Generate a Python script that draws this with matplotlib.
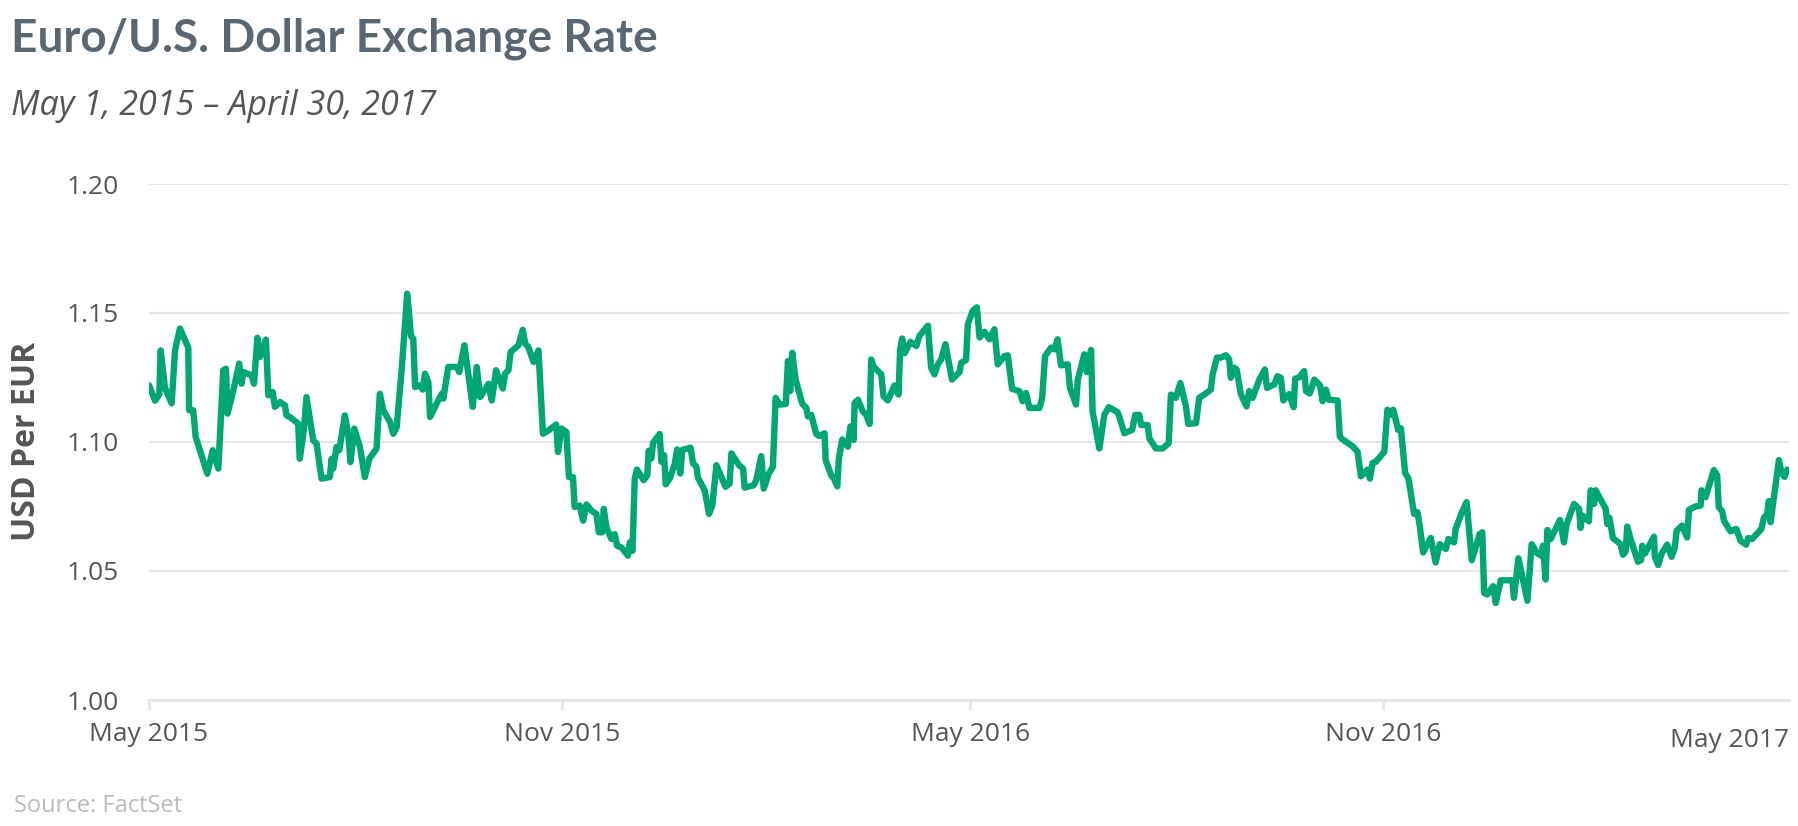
import matplotlib
matplotlib.use("Agg")
import matplotlib.pyplot as plt
import matplotlib.transforms as mtransforms
import pandas as pd

# Days after 2015-05-01 and EUR/USD rate
days = [0, 2.7, 4.6, 5.2, 7.1, 10.1, 11.6, 13.8, 17.5, 17.9, 19.7, 20.8, 26.0, 28.4, 30.9,
        33.1, 34.3, 35.0, 37.6, 40.2, 41.3, 42.0, 45.8, 46.8, 48.3, 49.4, 52.1, 53.2, 55.1,
        56.1, 58.4, 60.6, 61.3, 62.8, 66.5, 67.2, 69.0, 70.2, 73.2, 74.7, 76.9, 80.6, 81.4,
        82.1, 83.6, 84.8, 87.3, 88.8, 89.8, 91.5, 94.0, 96.2, 98.2, 101.4, 102.9, 104.4,
        107.4, 108.9, 110.4, 112.6, 115.1, 116.8, 117.8, 118.6, 120.8, 122.0, 123.0, 124.5,
        125.3, 128.2, 130.5, 131.2, 133.4, 137.2, 138.3, 140.6, 144.3, 146.1, 147.6, 151.3,
        152.8, 154.7, 157.7, 158.7, 160.2, 161.2, 164.7, 166.6, 167.7, 169.1, 171.4, 173.6,
        175.6, 178.1, 181.5, 182.3, 183.8, 186.0, 187.2, 189.0, 189.7,
        192.0, 193.5, 195.0, 197.2, 199.4, 200.5, 202.0, 202.7, 203.9, 206.1, 207.6, 208.6,
        210.6, 213.5, 214.3, 215.5, 216.5, 217.5, 220.5, 222.1, 222.7, 223.9, 224.7, 227.6,
        228.4, 229.6, 230.3, 232.1, 234.3, 235.4, 236.8, 237.7, 241.4, 242.5, 244.0, 244.7,
        247.7, 249.6, 251.1, 252.9, 255.1, 257.0, 258.8, 259.6, 263.0, 264.8, 265.5, 269.5,
        270.7, 272.9, 274.0, 276.3, 278.1, 279.3, 281.1, 283.8, 284.8, 285.8, 286.7, 288.2,
        291.2, 293.0, 293.7, 295.2, 297.4, 298.9, 301.1, 301.6, 304.1, 305.3, 306.8, 307.5,
        309.0, 311.5, 312.6, 314.1, 314.5, 316.0, 318.2, 319.7, 321.2, 321.9, 323.0, 326.4,
        327.4, 329.3, 332.3, 334.1, 334.8, 335.7, 336.8, 339.4, 342.0, 343.4, 347.2, 348.6,
        350.1, 351.6, 353.1, 355.0, 357.9, 361.3, 362.0, 364.2, 365.0, 367.2, 369.0, 370.2,
        372.4,
        374.6, 376.8, 378.3, 381.3, 382.8, 384.7, 388.0, 389.4, 390.9, 392.4, 396.9, 398.1,
        399.4, 402.1, 403.6, 405.0, 406.5, 409.5, 410.5, 413.2, 414.0, 416.9, 418.0, 419.9,
        420.6, 423.6, 425.8, 427.8, 431.8, 433.2, 434.7, 438.2, 439.6, 441.4, 442.2, 445.1,
        445.9, 448.8, 451.8, 454.5, 455.5, 457.7, 459.7, 462.2, 463.2, 466.7, 468.1, 470.4,
        473.3, 474.1, 476.0, 477.8, 480.0, 481.5, 482.2, 483.7, 484.8, 486.7, 489.2, 490.4,
        491.9, 494.9, 497.4, 498.3, 501.6, 503.0, 504.5, 505.6, 508.2, 510.2, 510.9, 512.7,
        514.9, 515.7, 517.4, 519.4, 522.0, 523.1, 524.6, 525.8, 529.8, 530.8, 532.0, 533.5,
        536.4, 538.7, 540.2, 543.1, 544.2, 545.4, 546.8, 550.6, 552.0, 553.5, 554.6, 556.8,
        558.0,
        559.9, 561.4, 563.9, 565.4, 566.4, 567.9, 571.3, 573.5, 575.3, 578.0, 579.2, 581.7,
        582.4, 585.4, 587.3, 589.6, 593.1, 594.3, 595.1, 596.5, 599.1, 600.3, 602.5, 607.7,
        608.4, 610.4, 614.4, 616.3, 618.8, 620.8, 621.3, 622.5, 623.3, 624.8, 628.9, 630.7,
        631.9, 635.2, 637.4, 638.1, 638.9, 641.8, 642.6, 644.1, 644.8, 649.3, 650.0, 651.0,
        652.5, 655.9, 657.0, 658.2, 658.9, 660.4, 663.7, 665.1, 665.6, 666.8, 670.8, 671.2,
        672.7, 674.1, 676.7, 678.7, 680.1, 680.9, 683.4, 685.6, 686.4, 689.3, 691.6, 692.0,
        693.8, 697.5, 699.0, 699.7, 701.2, 702.0, 704.9, 707.5, 709.4, 711.9, 712.8, 714.6,
        718.7, 719.8, 721.3, 722.0, 722.8, 726.5, 727.7, 729.0, 730.2]

rates = [1.1220, 1.1160, 1.1185, 1.1355, 1.1210, 1.1150, 1.1355, 1.1440, 1.1366, 1.1123, 1.1123, 1.1020, 1.0877, 1.0968, 1.0897,
         1.1278, 1.1284, 1.1110, 1.1200, 1.1304, 1.1226, 1.1271, 1.1258, 1.1226, 1.1404, 1.1329, 1.1397, 1.1181, 1.1194,
         1.1136, 1.1155, 1.1142, 1.1103, 1.1097, 1.1071, 1.0935, 1.1045, 1.1174, 1.1006, 1.0994, 1.0858, 1.0864, 1.0935,
         1.0897, 1.0981, 1.0968, 1.1103, 1.1032, 1.0922, 1.1052, 1.0981, 1.0864, 1.0935, 1.0974, 1.1187, 1.1123,
         1.1078, 1.1032, 1.1058, 1.1278, 1.1575, 1.1410, 1.1400, 1.1213, 1.1220, 1.1203, 1.1265, 1.1233,
         1.1097, 1.1149, 1.1187, 1.1168, 1.1291, 1.1291, 1.1271, 1.1375, 1.1136, 1.1291, 1.1174, 1.1226,
         1.1161, 1.1278, 1.1207, 1.1265, 1.1278, 1.1349, 1.1375, 1.1435, 1.1381, 1.1368, 1.1310, 1.1355,
         1.1032, 1.1045, 1.1068, 1.0961, 1.1052, 1.1039, 1.0864, 1.0864, 1.0748,
         1.0754, 1.0695, 1.0758, 1.0734, 1.0721, 1.0650, 1.0650, 1.0741, 1.0669, 1.0624, 1.0643, 1.0598,
         1.0591, 1.0559, 1.0611, 1.0578, 1.0858, 1.0893, 1.0852, 1.0871, 1.0966, 1.0936, 1.0997, 1.1031,
         1.0923, 1.0949, 1.0836, 1.0858, 1.0914, 1.0971, 1.0878, 1.0969, 1.0978, 1.0917, 1.0904, 1.0862,
         1.0812, 1.0721, 1.0754, 1.0910, 1.0865, 1.0826, 1.0839, 1.0956, 1.0910, 1.0897, 1.0823, 1.0832,
         1.0852, 1.0945, 1.0819, 1.0878, 1.0904, 1.1171, 1.1145, 1.1147, 1.1314, 1.1197, 1.1346, 1.1242,
         1.1148, 1.1132, 1.1099, 1.1105, 1.1031, 1.1023, 1.1034, 1.0930, 1.0871, 1.0858, 1.0828, 1.0936,
         1.1010, 1.0982, 1.1060, 1.1008, 1.1151, 1.1164, 1.1118, 1.1105, 1.1070, 1.1320, 1.1292, 1.1262,
         1.1177, 1.1161, 1.1219, 1.1184, 1.1359, 1.1401, 1.1344, 1.1388, 1.1372, 1.1411, 1.1451, 1.1288,
         1.1262, 1.1301, 1.1320, 1.1379, 1.1242, 1.1271, 1.1307, 1.1318, 1.1457, 1.1509, 1.1522, 1.1405,
         1.1427,
         1.1398, 1.1437, 1.1301, 1.1333, 1.1336, 1.1206, 1.1197, 1.1158, 1.1190, 1.1132, 1.1132, 1.1171,
         1.1333, 1.1366, 1.1359, 1.1398, 1.1297, 1.1301, 1.1210, 1.1145, 1.1242, 1.1340, 1.1271, 1.1357,
         1.1118, 1.0975, 1.1105, 1.1135, 1.1115, 1.1079, 1.1034, 1.1047, 1.1105, 1.1105, 1.1066, 1.1066,
         1.1014, 1.0975, 1.0975, 1.0995, 1.1184, 1.1171, 1.1229, 1.1138, 1.1070, 1.1073, 1.1171, 1.1184,
         1.1203, 1.1262, 1.1327, 1.1327, 1.1336, 1.1320, 1.1249, 1.1288, 1.1281, 1.1184, 1.1138, 1.1197,
         1.1171, 1.1242, 1.1281, 1.1210, 1.1223, 1.1255, 1.1249, 1.1161, 1.1186, 1.1135, 1.1245, 1.1251,
         1.1275, 1.1197, 1.1188, 1.1242, 1.1219, 1.1158, 1.1203, 1.1164, 1.1161, 1.1021, 1.1010, 1.1001,
         1.0984, 1.0962, 1.0867, 1.0893, 1.0858, 1.0919, 1.0923, 1.0962, 1.1125, 1.1105, 1.1125, 1.1047,
         1.1053,
         1.0880, 1.0858, 1.0721, 1.0728, 1.0676, 1.0572, 1.0628, 1.0533, 1.0604, 1.0585, 1.0624, 1.0611,
         1.0663, 1.0732, 1.0767, 1.0542, 1.0643, 1.0650, 1.0415, 1.0409, 1.0441, 1.0376, 1.0464, 1.0464,
         1.0396, 1.0549, 1.0385, 1.0604, 1.0568, 1.0559, 1.0598, 1.0467, 1.0659, 1.0624, 1.0698, 1.0611,
         1.0682, 1.0760, 1.0741, 1.0667, 1.0715, 1.0693, 1.0813, 1.0760, 1.0813, 1.0741, 1.0682, 1.0706,
         1.0628, 1.0604, 1.0563, 1.0576, 1.0672, 1.0624, 1.0536, 1.0542, 1.0598, 1.0568, 1.0633, 1.0555,
         1.0523, 1.0565, 1.0602, 1.0555, 1.0591, 1.0656, 1.0676, 1.0630, 1.0737, 1.0750, 1.0754, 1.0813,
         1.0786, 1.0891, 1.0871, 1.0747, 1.0732, 1.0695, 1.0654, 1.0663, 1.0617, 1.0602, 1.0628, 1.0624,
         1.0663, 1.0706, 1.0721, 1.0771, 1.0689, 1.0930, 1.0880, 1.0865, 1.0893]

start_date = "2015-05-01"
end_date = "2017-05-01"
y_ticks = [1.00, 1.05, 1.10, 1.15, 1.20]
x_tick_dates = ["2015-05-01", "2015-11-01", "2016-05-01", "2016-11-01", "2017-05-01"]
x_tick_labels = ["May 2015", "Nov 2015", "May 2016", "Nov 2016", "May 2017"]

dates = pd.Timestamp(start_date) + pd.to_timedelta(days, unit="D")

W, H = 1798, 826
fig = plt.figure(figsize=(W / 100, H / 100), dpi=100)
ax = fig.add_axes([149 / W, 1 - 700 / H, (1789 - 149) / W, (700 - 184) / H])

ax.plot(dates, rates, color="#00a673", lw=4.6, solid_joinstyle="round", solid_capstyle="round", zorder=3)

ax.set_xlim(pd.Timestamp(start_date), pd.Timestamp(end_date))
ax.set_ylim(1.0, 1.2)
ax.set_yticks(y_ticks)
ax.set_yticklabels([f"{v:.2f}" for v in y_ticks], fontfamily="Open Sans", fontsize=19, color="#555555")
ax.set_xticks(pd.to_datetime(x_tick_dates))
ax.set_xticklabels(x_tick_labels, fontfamily="Open Sans", fontsize=19, color="#555555")

ax.grid(axis="y", color="#e6e6e6", lw=1.5, zorder=0)
ax.grid(axis="x", visible=False)
for s in ["top", "right", "left"]:
    ax.spines[s].set_visible(False)
ax.spines["bottom"].set_color("#e6e6e6")
ax.spines["bottom"].set_linewidth(2.2)
ax.spines["bottom"].set_zorder(1)
ax.tick_params(axis="y", length=0, pad=22)
ax.tick_params(axis="x", length=7, width=2, color="#e6e6e6", pad=9)
ax.xaxis.get_major_ticks()[-1].tick1line.set_visible(False)
last = ax.get_xticklabels()[-1]
last.set_ha("right")
last.set_transform(last.get_transform() + mtransforms.ScaledTranslation(0, -4 / 72, fig.dpi_scale_trans))

fig.text(11 / W, 1 - 52 / H, "Euro/U.S. Dollar Exchange Rate", fontfamily="Lato", fontweight="bold",
         fontsize=33, color="#5a6672", va="baseline", ha="left")
fig.text(11 / W, 1 - 115 / H, "May 1, 2015 \u2013 April 30, 2017", fontfamily="Open Sans", fontstyle="italic",
         fontsize=24.5, color="#555555", va="baseline", ha="left")
fig.text(27 / W, 1 - 441 / H, "USD Per EUR", fontfamily="Open Sans", fontweight="bold",
         fontsize=23, color="#555555", rotation=90, va="center", ha="center")
fig.text(14 / W, 1 - 812 / H, "Source: FactSet", fontfamily="Open Sans", fontsize=17,
         color="#bbbbbb", va="baseline", ha="left")

fig.savefig("out.png", dpi=100)
